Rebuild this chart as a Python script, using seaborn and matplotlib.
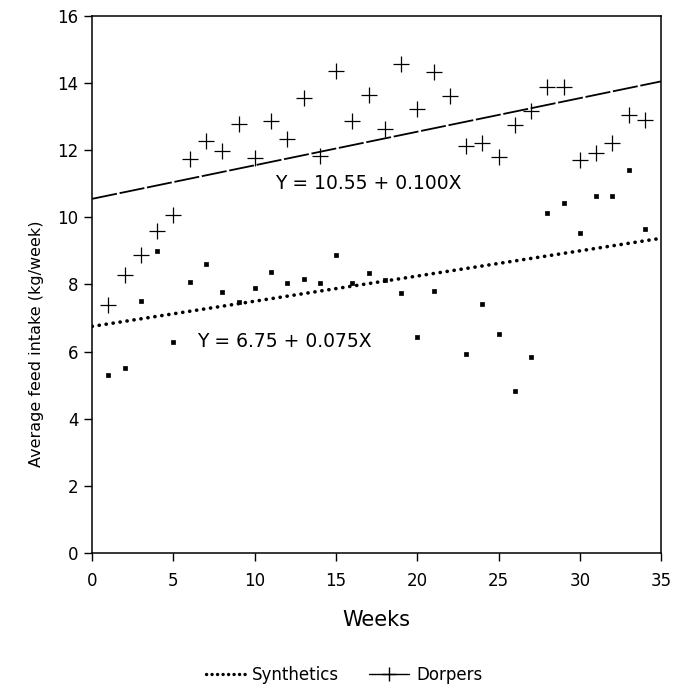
"""
Average weekly feed intake of Synthetics and Dorpers
"""

# Libraries
import numpy as np
import pandas as pd
import seaborn as sns
import matplotlib.pyplot as plt
from matplotlib.lines import Line2D

# Seaborn
sns.set_theme(style="ticks")
plt.rcParams['font.family'] = ['DejaVu Sans']
plt.rcParams['text.color'] = 'black'
plt.rcParams['axes.labelcolor'] = 'black'

# ---------------------------------
# Data
# ---------------------------------
weeks = list(range(1, 35))

synthetics = [5.30, 5.50, 7.50, 8.99, 6.29, 8.08, 8.60, 7.78, 7.47, 7.88,
              8.38, 8.05, 8.16, 8.05, 8.87, 8.04, 8.34, 8.14, 7.73, 6.42,
              7.81, np.nan, 5.92, 7.42, 6.53, 4.81, 5.84, 10.13, 10.43, 9.52,
              10.64, 10.64, 11.42, 9.65]

dorpers = [7.38, 8.29, 8.89, 9.58, 10.08, 11.75, 12.27, 11.97, 12.78, 11.77,
           12.86, 12.33, 13.55, 11.83, 14.35, 12.86, 13.65, 12.63, 14.58, 13.23,
           14.32, 13.62, 12.13, 12.20, 11.80, 12.74, 13.16, 13.87, 13.87, 11.72,
           11.92, 12.22, 13.04, 12.91]

# Regression fits (intercept, slope)
fit_synthetics = (6.75, 0.075)
fit_dorpers = (10.55, 0.100)

eq_synthetics = "Y = 6.75 + 0.075X"
eq_dorpers = "Y = 10.55 + 0.100X"

# Tidy frame
data = pd.concat([
    pd.DataFrame({'week': weeks, 'intake': synthetics, 'breed': 'Synthetics'}),
    pd.DataFrame({'week': weeks, 'intake': dorpers, 'breed': 'Dorpers'}),
]).dropna()

# Fitted lines
xfit = np.linspace(0, 35, 100)
yfit_s = fit_synthetics[0] + fit_synthetics[1] * xfit
yfit_d = fit_dorpers[0] + fit_dorpers[1] * xfit

# ---------------------------------
# Plot
# ---------------------------------
f = plt.figure(figsize=(6.88, 6.92), dpi=100)
ax = f.add_axes([0.134, 0.201, 0.827, 0.776])

# Points
sns.scatterplot(data=data[data.breed == 'Synthetics'], x='week', y='intake',
                marker='s', s=10, color='black', edgecolor='black',
                linewidth=0.5, ax=ax, legend=False)
sns.scatterplot(data=data[data.breed == 'Dorpers'], x='week', y='intake',
                marker='+', s=120, color='black', linewidth=0.9,
                ax=ax, legend=False)

# Regression lines
sns.lineplot(x=xfit, y=yfit_s, color='black', ax=ax, linewidth=2.6,
             linestyle=(0, (0.05, 1.9)), dash_capstyle='round')
sns.lineplot(x=xfit, y=yfit_d, color='black', ax=ax, linewidth=1.3,
             linestyle=(0, (14, 1.5)))

# Equations
ax.text(11.25, 11.0, eq_dorpers, fontsize=13.5, ha='left', va='center')
ax.text(6.45, 6.31, eq_synthetics, fontsize=13.5, ha='left', va='center')

# Axes
ax.set_xlim(0, 35)
ax.set_ylim(0, 16)
ax.set_xticks(range(0, 36, 5))
ax.set_yticks(range(0, 17, 2))
ax.tick_params(direction='out', length=6, width=1, color='black',
               labelsize=12, pad=4, labelcolor='black')
ax.tick_params(axis='x', pad=8)
for s in ax.spines.values():
    s.set_color('black')
    s.set_linewidth(1.1)

ax.set_xlabel("Weeks", fontsize=15, labelpad=14)
ax.set_ylabel("Average feed intake (kg/week)", fontsize=11.5)
ax.yaxis.set_label_coords(-0.085, 0.39)

# Legend
handles = [
    Line2D([], [], color='black', linewidth=2.4,
           linestyle=(0, (0.05, 1.6)), dash_capstyle='round'),
    Line2D([], [], color='black', linewidth=1.0, marker='+',
           markersize=10, markeredgewidth=1.0),
]
f.legend(handles, ['Synthetics', 'Dorpers'], loc='center',
         bbox_to_anchor=(0.5, 0.025), ncol=2, frameon=False,
         fontsize=12, handlelength=2.4, columnspacing=1.8,
         handletextpad=0.4)

plt.savefig('out.png', dpi=100)
